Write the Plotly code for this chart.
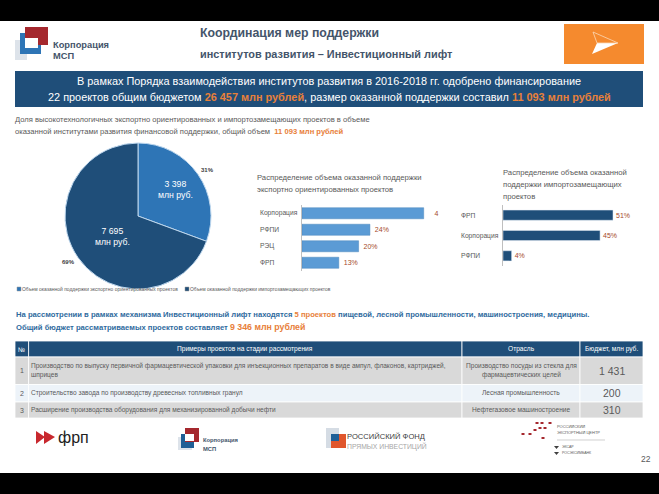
import plotly.graph_objects as go

W, H = 659, 494
FONT = "Liberation Sans"

pie_labels = ["Объем оказанной поддержки экспортно ориентированных проектов",
              "Объем оказанной поддержки импортозамещающих проектов"]
pie_values = [3398, 7695]
pie_text = ["3 398<br>млн руб.", "7 695<br>млн руб."]
pie_pct = ["31%", "69%"]
pie_colors = ["#2E75B6", "#1F4E79"]

export_cats = ["Корпорация", "РФПИ", "РЭЦ", "ФРП"]
export_vals = [43, 24, 20, 13]
export_text = ["\u00a0\u00a0\u00a0\u00a04", "\u00a024%", "\u00a020%", "\u00a013%"]

import_cats = ["ФРП", "Корпорация", "РФПИ"]
import_vals = [51, 45, 4]
import_text = ["51%", "45%", "4%"]

table_header = ["№", "Примеры проектов на стадии рассмотрения", "Отрасль", "Бюджет, млн руб."]
table_num = ["1", "2", "3"]
table_project = [
    "Производство по выпуску первичной фармацевтической упаковки для инъекционных препаратов в виде ампул, флаконов, картриджей,<br>шприцев",
    "Строительство завода по производству древесных топливных гранул",
    "Расширение производства оборудования для механизированной добычи нефти",
]
table_branch = ["Производство посуды из стекла для<br>фармацевтических целей",
                "Лесная промышленность", "Нефтегазовое машиностроение"]
table_budget = ["1 431", "200", "310"]

ORANGE = "#E8803A"
NAVY = "#1F4E79"
GREY = "#595959"
BLUE_TXT = "#2F6B9E"
RED = "#A5282E"


def X(p):
    return p / W


def Y(p):
    return 1 - p / H


def orange(t):
    return f'<span style="color:{ORANGE}"><b>{t}</b></span>'


fig = go.Figure()

fig.add_trace(go.Pie(
    labels=pie_labels, values=pie_values, sort=False, direction="clockwise", rotation=0,
    marker=dict(colors=pie_colors, line=dict(color="#BDD7EE", width=1)),
    textinfo="none", showlegend=False, domain=dict(x=[X(65), X(211)], y=[Y(289), Y(143)]),
))

fig.add_trace(go.Bar(
    x=export_vals, y=export_cats, orientation="h", text=export_text, textposition="outside",
    textfont=dict(size=7, color="#A5492A", family=FONT), cliponaxis=False,
    marker=dict(color="#5B9BD5", line=dict(color="#4A86BD", width=0.5)),
    xaxis="x", yaxis="y", showlegend=False, width=0.67,
))
fig.add_trace(go.Bar(
    x=import_vals, y=import_cats, orientation="h", text=import_text, textposition="outside",
    textfont=dict(size=7, color="#A5492A", family=FONT), cliponaxis=False,
    marker=dict(color=NAVY), xaxis="x2", yaxis="y2", showlegend=False, width=0.5,
))

shapes = [
    dict(type="rect", x0=0, x1=W, y0=0, y1=21, fillcolor="black"),
    dict(type="rect", x0=0, x1=W, y0=473, y1=494, fillcolor="black"),
    dict(type="rect", x0=15, x1=643, y0=71, y1=107, fillcolor=NAVY),
    # orange tile
    dict(type="rect", x0=564, x1=644, y0=24, y1=64, fillcolor="#F58A2E"),
    dict(type="path", path="M592,54 L597,43 L618,43 Z", fillcolor="white"),
    dict(type="path", path="M593,32 L618,43 L597,43 Z", fillcolor="#F58A2E", line=dict(color="#FBD9B8", width=0.8)),
    # top logo
    dict(type="rect", x0=15, x1=27, y0=40, y1=60, fillcolor="#DDE3EA"),
    dict(type="rect", x0=20, x1=41, y0=33, y1=54, fillcolor="#2E75B6"),
    dict(type="rect", x0=25, x1=48, y0=27, y1=45, fillcolor=RED),
    dict(type="rect", x0=25, x1=38, y0=38, y1=48, fillcolor="white"),
    # legend squares
    dict(type="rect", x0=17, x1=21, y0=287, y1=291, fillcolor="#2E75B6", line=dict(color="#999", width=0.5)),
    dict(type="rect", x0=185, x1=189, y0=287, y1=291, fillcolor="#1F4E79", line=dict(color="#999", width=0.5)),
    # FRP logo
    dict(type="path", path="M36,431 L45,437 L36,444 Z", fillcolor="#C8282E"),
    dict(type="path", path="M44,431 L55,437 L44,444 Z", fillcolor="#C8282E"),
    # bottom corp logo
    dict(type="rect", x0=178, x1=192, y0=437, y1=450, fillcolor="#DDE3EA"),
    dict(type="rect", x0=181, x1=194, y0=434, y1=448, fillcolor="#1F5F96"),
    dict(type="rect", x0=185, x1=199, y0=428, y1=442, fillcolor=RED),
    dict(type="rect", x0=185, x1=194, y0=434, y1=441, fillcolor="white"),
    # RFPI logo
    dict(type="rect", x0=326, x1=339, y0=428, y1=448, fillcolor="#D5DCE4"),
    dict(type="rect", x0=331, x1=346, y0=434, y1=448, fillcolor="#E0562C"),
    dict(type="rect", x0=331, x1=339, y0=434, y1=441, fillcolor="#1F5F96"),
    # REC marks
    dict(type="line", x0=557, x1=605, y0=440, y1=440, line=dict(color="#BBBBBB", width=0.7)),
    dict(type="path", path="M554,446 L559,446 L556.5,449 Z", fillcolor="#404040"),
    dict(type="path", path="M554,452 L559,452 L556.5,455 Z", fillcolor="#404040"),
]
rec_marks = [(523, 434), (530, 434), (535, 430), (540, 428), (543, 438), (545, 428),
             (550, 423), (537, 423), (542, 423)]
for mx, my in rec_marks:
    shapes.append(dict(type="rect", x0=mx - 1.5, x1=mx + 1.5, y0=my - 1, y1=my + 1, fillcolor=RED))

ann = []


def txt(x, y, s, size=8, color=GREY, anchor="left", family=FONT):
    x = x - 2 if anchor == "left" else x
    return dict(x=x, y=y, text=s, xref="x9", yref="y9", showarrow=False, xanchor=anchor, yanchor="middle",
                align=anchor, font=dict(size=size, color=color, family=family))


col_edges = [15, 28.6, 462, 580, 643]
row_edges = [341, 357, 384.5, 402, 418]
for c in range(4):
    shapes.append(dict(type="rect", x0=col_edges[c], x1=col_edges[c + 1], y0=row_edges[0], y1=row_edges[1],
                       fillcolor=NAVY, line=dict(color="white", width=0.8)))
    ann.append(txt((col_edges[c] + col_edges[c + 1]) / 2, (row_edges[0] + row_edges[1]) / 2, table_header[c],
                   6.6, "white", "center"))
row_fill = ["#D9D9D9", "#EDF3F9", "#D9D9D9"]
for r in range(3):
    y0, y1 = row_edges[r + 1], row_edges[r + 2]
    ym = (y0 + y1) / 2
    for c in range(4):
        shapes.append(dict(type="rect", x0=col_edges[c], x1=col_edges[c + 1], y0=y0, y1=y1,
                           fillcolor=row_fill[r], line=dict(color="white", width=0.8)))
    ann.append(txt((col_edges[0] + col_edges[1]) / 2, ym, table_num[r], 7, GREY, "center"))
    ann.append(txt(col_edges[1] + 2, ym, table_project[r], 6.55, GREY))
    ann.append(txt((col_edges[2] + col_edges[3]) / 2, ym, table_branch[r], 6.6, GREY, "center"))
    ann.append(txt((col_edges[3] + col_edges[4]) / 2, ym, table_budget[r], 10.5, GREY, "center"))

for s in shapes:
    s.update(xref="x9", yref="y9", layer="above")
    s.setdefault("line", dict(width=0))

ann += [
    txt(200, 33, "<b>Координация мер поддержки</b>", 12.3, "#44546A"),
    txt(200, 54, "<b>институтов развития – Инвестиционный лифт</b>", 10.9, "#44546A"),
    txt(53, 45, "<b>Корпорация</b>", 9.3, "#44546A"),
    txt(53, 56, "<b>МСП</b>", 9.3, "#44546A"),
    txt(329, 81, "В рамках Порядка взаимодействия институтов развития в 2016-2018 гг. одобрено финансирование",
        10.9, "white", "center"),
    txt(329, 97, "22 проектов общим бюджетом " + orange("26 457 млн рублей")
        + ", размер оказанной поддержки составил " + orange("11 093 млн рублей"), 10.9, "white", "center"),
    txt(15, 119, "Доля высокотехнологичных экспортно ориентированных и импортозамещающих проектов в объеме", 7.6, GREY),
    txt(15, 131, "оказанной институтами развития финансовой поддержки, общий объем  "
        + orange("11 093 млн рублей"), 7.6, GREY),
    txt(175, 189, pie_text[0], 8.7, "white", "center"),
    txt(112, 236, pie_text[1], 8.7, "white", "center"),
    txt(207, 170, f"<b>{pie_pct[0]}</b>", 6, "#404040", "center"),
    txt(68, 262, f"<b>{pie_pct[1]}</b>", 6, "#404040", "center"),
    txt(22, 289, pie_labels[0], 4.95, GREY),
    txt(190, 289, pie_labels[1], 4.95, GREY),
    txt(257, 177, "Распределение объема оказанной поддержки", 7.7, GREY),
    txt(257, 189, "экспортно ориентированных проектов", 7.7, GREY),
    txt(503, 172, "Распределение объема оказанной", 7.7, GREY),
    txt(503, 184, "поддержки импортозамещающих", 7.7, GREY),
    txt(503, 196, "проектов", 7.7, GREY),
    txt(16, 314, '<b>На рассмотрении в рамках механизма Инвестиционный лифт находятся </b>'
        + orange("5 проектов") + "<b> пищевой, лесной промышленности, машиностроения, медицины.</b>", 7.65, BLUE_TXT),
    txt(16, 327, "<b>Общий бюджет рассматриваемых проектов составляет </b>"
        + f'<span style="font-size:8.8px;color:{ORANGE}"><b>9 346 млн рублей</b></span>', 7.65, BLUE_TXT),
    txt(58, 437, "фрп", 16, "#222222"),
    txt(203, 440, "<b>Корпорация</b>", 5.8, "#44546A"),
    txt(203, 449, "<b>МСП</b>", 5.8, "#44546A"),
    txt(347, 436, "РОССИЙСКИЙ ФОНД", 7.6, "#404040"),
    txt(347, 446, "ПРЯМЫХ ИНВЕСТИЦИЙ", 6.8, "#A6A6A6"),
    txt(557, 426, "РОССИЙСКИЙ", 4, GREY),
    txt(557, 432, "ЭКСПОРТНЫЙ ЦЕНТР", 4, GREY),
    txt(562, 447, "ЭКСАР", 3.5, GREY),
    txt(562, 453, "РОСЭКСИМБАНК", 3.5, GREY),
    txt(646, 459, "22", 8.5, GREY, "center"),
]
for c in export_cats:
    ann.append(dict(x=X(258), y=c, xref="paper", yref="y", text=c, showarrow=False, xanchor="left",
                    font=dict(size=6.7, color=GREY, family=FONT)))
for c in import_cats:
    ann.append(dict(x=X(459), y=c, xref="paper", yref="y2", text=c, showarrow=False, xanchor="left",
                    font=dict(size=6.7, color=GREY, family=FONT)))

fig.update_layout(
    width=W, height=H, margin=dict(l=0, r=0, t=0, b=0, pad=0),
    paper_bgcolor="white", plot_bgcolor="rgba(0,0,0,0)", showlegend=False,
    font=dict(family=FONT, color=GREY), shapes=shapes, annotations=ann,
    xaxis=dict(domain=[X(302), X(302 + 2.83 * 50)], range=[0, 50], visible=False),
    yaxis=dict(domain=[Y(271), Y(205)], autorange=False, range=[3.5, -0.5], anchor="x", side="left",
               categoryorder="array", categoryarray=export_cats,
               showticklabels=False, ticks="", showgrid=False, zeroline=False,
               showline=True, linecolor="#BFBFBF", linewidth=1),
    xaxis2=dict(domain=[X(503), X(503 + 2.157 * 60)], range=[0, 60], visible=False, anchor="y2"),
    yaxis2=dict(domain=[Y(266), Y(205)], autorange=False, range=[2.5, -0.5], anchor="x2", side="left",
                categoryorder="array", categoryarray=import_cats,
                showticklabels=False, ticks="", showgrid=False, zeroline=False,
                showline=True, linecolor="#BFBFBF", linewidth=1),
    xaxis9=dict(domain=[0, 1], range=[0, W], visible=False, anchor="y9", fixedrange=True),
    yaxis9=dict(domain=[0, 1], range=[H, 0], visible=False, anchor="x9", fixedrange=True),
)

fig.write_html("out.html", config=dict(displayModeBar=False),
               post_script="document.body.style.margin='0';document.documentElement.style.overflow='hidden';")
